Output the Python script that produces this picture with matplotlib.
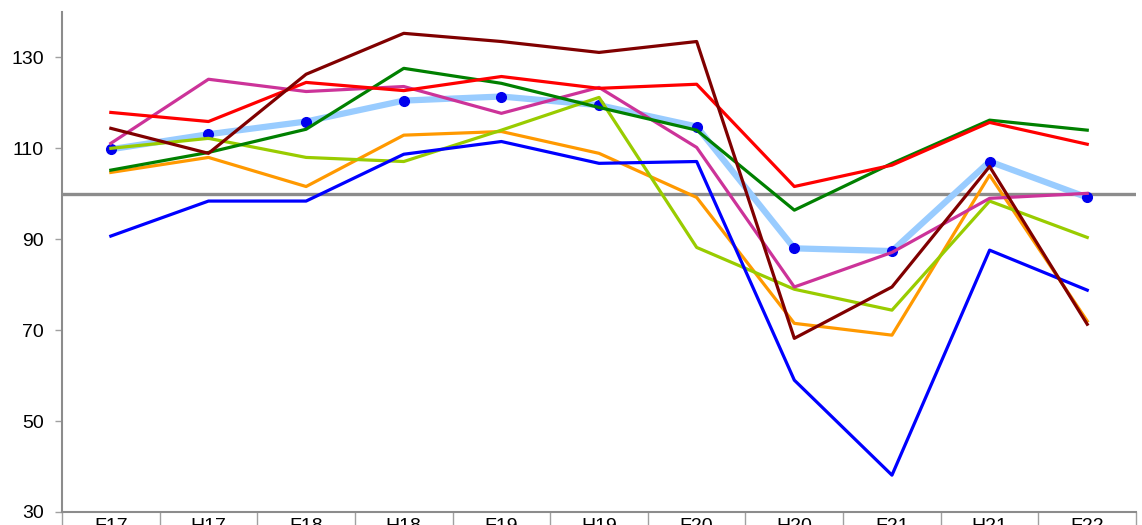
import matplotlib
matplotlib.use("Agg")
import matplotlib.pyplot as plt
import numpy as np

plt.rcParams['font.family'] = ['Liberation Sans', 'DejaVu Sans']

periods = ["F17", "H17", "F18", "H18", "F19", "H19", "F20", "H20", "F21", "H21", "F22"]

avg_line = [109.8, 113.1, 115.9, 120.5, 121.4, 119.5, 114.8, 88.0, 87.4, 107.1, 99.2]
red_line = [117.9, 115.9, 124.5, 122.7, 125.8, 123.2, 124.1, 101.6, 106.3, 115.7, 110.9]
green_line = [105.2, 109.1, 114.2, 127.6, 124.3, 119.0, 114.0, 96.4, 106.7, 116.2, 114.0]
maroon_line = [114.4, 108.9, 126.3, 135.3, 133.5, 131.1, 133.5, 68.2, 79.5, 106.0, 71.3]
magenta_line = [111.1, 125.2, 122.5, 123.6, 117.7, 123.4, 110.2, 79.5, 87.1, 99.0, 100.1]
lime_line = [110.0, 112.2, 108.0, 107.1, 114.0, 121.2, 88.2, 79.0, 74.4, 98.4, 90.4]
orange_line = [104.7, 108.0, 101.6, 112.9, 113.7, 108.9, 99.2, 71.5, 68.9, 104.1, 72.0]
blue_line = [90.7, 98.4, 98.4, 108.7, 111.5, 106.7, 107.1, 59.0, 38.1, 87.6, 78.8]
base_level = 100

x = np.arange(len(periods))

fig = plt.figure(figsize=(11.42, 5.25), dpi=100)
ax = fig.add_axes([0.0543, 0.0248, 0.9405, 0.9524])

ax.axhline(base_level, color="#8c8c8c", lw=2.4, zorder=1)

# average line underneath the others, with dots
ax.plot(x, avg_line, color="#99ccff", lw=4.5, zorder=2)
ax.plot(x, avg_line, 'o', color="#0000ee", markersize=7, zorder=2.5)

ax.plot(x, orange_line, color="#ff9900", lw=2.3, zorder=3)
ax.plot(x, lime_line, color="#99cc00", lw=2.3, zorder=3)
ax.plot(x, blue_line, color="#0000ff", lw=2.3, zorder=3)
ax.plot(x, magenta_line, color="#cc3399", lw=2.3, zorder=3)
ax.plot(x, green_line, color="#008000", lw=2.3, zorder=3)
ax.plot(x, red_line, color="#ff0000", lw=2.3, zorder=3)
ax.plot(x, maroon_line, color="#800000", lw=2.3, zorder=3)

ax.set_xlim(-0.5, len(periods) - 0.5)
ax.set_ylim(30, 140)
ax.set_yticks([30, 50, 70, 90, 110, 130])

# category labels at centers, separators at boundaries
ax.set_xticks(np.arange(len(periods) + 1) - 0.5)
ax.set_xticklabels([])
ax.set_xticks(x, minor=True)
ax.set_xticklabels(periods, minor=True)
ax.tick_params(axis='x', which='major', length=14, width=1, color="#a0a0a0")
ax.tick_params(axis='x', which='minor', length=0, pad=4.5, labelsize=14)
ax.tick_params(axis='y', length=5, width=1, color="#a0a0a0", pad=8, labelsize=14)

for side in ['top', 'right']:
    ax.spines[side].set_visible(False)
for side in ['left', 'bottom']:
    ax.spines[side].set_color("#8c8c8c")
    ax.spines[side].set_linewidth(1.5)

fig.savefig("out.png", dpi=100)
